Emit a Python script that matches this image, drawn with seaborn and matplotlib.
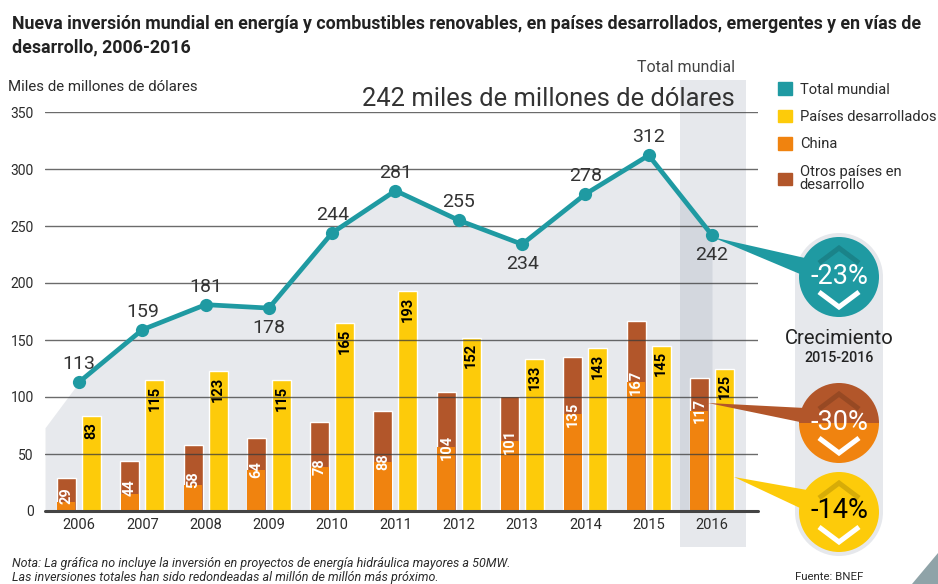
import matplotlib

matplotlib.use("Agg")

import matplotlib.pyplot as plt
import numpy as np
import pandas as pd
import seaborn as sns
from matplotlib.patches import Circle, Patch, Polygon, Rectangle, Wedge

YEARS = [2006, 2007, 2008, 2009, 2010, 2011, 2012, 2013, 2014, 2015, 2016]
TOTAL = [113, 159, 181, 178, 244, 281, 255, 234, 278, 312, 242]
DEVELOPED = [83, 115, 123, 115, 165, 193, 152, 133, 143, 145, 125]
DEVELOPING = [29, 44, 58, 64, 78, 88, 104, 101, 135, 167, 117]
CHINA = [8, 15, 23, 36, 39, 43, 56, 61, 85, 113, 88]
LABEL_BELOW = [2009, 2013, 2016]
AREA_START = 73
Y_TICKS = [0, 50, 100, 150, 200, 250, 300, 350]

TEAL = "#1F9AA2"
YELLOW = "#FDCB0A"
ORANGE = "#F0830F"
BROWN = "#B2562A"
PANEL = "#E6E8EC"
DARK = "#2B2B2B"

sns.set_theme(style="white")
plt.rcParams["font.family"] = ["Roboto", "DejaVu Sans"]

fig = plt.figure(figsize=(9.38, 5.84), dpi=100, facecolor="white")


def pixel_axes(zorder):
    overlay = fig.add_axes([0, 0, 1, 1], zorder=zorder)
    overlay.set_xlim(0, 938)
    overlay.set_ylim(584, 0)
    overlay.axis("off")
    return overlay


ax_bg = pixel_axes(0)
ax_bg.add_patch(Rectangle((680, 80), 66, 467, color=PANEL, lw=0))
ax_bg.add_patch(Rectangle((795, 277), 88, 235, color=PANEL, lw=0))
for cy in [277, 512]:
    ax_bg.add_patch(Circle((839, cy), 44, color=PANEL, lw=0))

ax = fig.add_axes([45 / 938, 1 - 511 / 584, 713 / 938, 399 / 584], zorder=1)
ax.patch.set_alpha(0)

bars = pd.DataFrame(
    {
        "year": YEARS * 2,
        "group": ["Otros"] * len(YEARS) + ["Desarrollados"] * len(YEARS),
        "value": DEVELOPING + DEVELOPED,
        "china": CHINA + [np.nan] * len(YEARS),
    }
)
hue_order = ["Otros", "Desarrollados"]

area_x = [YEARS[0] - 0.537] + YEARS
area_y = [AREA_START] + TOTAL
ax.fill_between(area_x, 0, area_y, color="#8A94A6", alpha=0.2, lw=0, zorder=0.5)

sns.barplot(
    data=bars, x="year", y="value", hue="group", hue_order=hue_order,
    palette={"Otros": BROWN, "Desarrollados": YELLOW}, native_scale=True, saturation=1,
    width=0.79, gap=0.24, edgecolor="white", linewidth=1, legend=False, ax=ax,
)
sns.barplot(
    data=bars, x="year", y="china", hue="group", hue_order=hue_order,
    palette={"Otros": ORANGE, "Desarrollados": YELLOW}, native_scale=True, saturation=1,
    width=0.79, gap=0.28, linewidth=0, legend=False, ax=ax,
)
sns.lineplot(
    x=YEARS, y=TOTAL, color=TEAL, linewidth=3.4, marker="o", markersize=9.5,
    markeredgewidth=0, zorder=5, ax=ax,
)

for year, total in zip(YEARS, TOTAL):
    offset = -20 if year in LABEL_BELOW else 18
    ax.annotate(
        str(total), (year, total), xytext=(0, offset * 0.72), textcoords="offset points",
        ha="center", va="center", fontsize=14, color="#333333", zorder=6,
    )

for year, other, china, developed in zip(YEARS, DEVELOPING, CHINA, DEVELOPED):
    # short bars: the label sits a little above the colour change
    ax.text(
        year - 0.197, max(china, other * 0.47), str(other), rotation=90, ha="center", va="center",
        fontsize=10.5, fontweight="bold", color="white", zorder=6,
    )
    ax.annotate(
        str(developed), (year + 0.197, developed), xytext=(0, -4), textcoords="offset points",
        rotation=90, ha="center", va="top", fontsize=10.5, fontweight="bold", color="black", zorder=6,
    )

ax.set_xlim(YEARS[0] - 0.537, YEARS[0] + 10.727)
ax.set_ylim(0, 350)
ax.set_xticks(YEARS, [str(y) for y in YEARS])
ax.set_yticks(Y_TICKS)
ax.set(xlabel="", ylabel="")
sns.despine(ax=ax, left=True, bottom=True, top=True, right=True)
ax.set_axisbelow(False)
ax.grid(axis="y", color="#3A3A3A", alpha=0.75, linewidth=1)
ax.grid(axis="x", visible=False)
ax.axhline(0, color="#444444", linewidth=2.2, clip_on=False, zorder=4)
ax.tick_params(axis="y", length=0, pad=8, labelsize=10, labelcolor=DARK)
ax.tick_params(axis="x", length=0, pad=5, labelsize=10.5, labelcolor=DARK)

ax_fg = pixel_axes(2)

# callouts from the 2016 values to the growth circles
ax_fg.add_patch(Polygon([(712, 237), (805, 258), (800, 274)], color=TEAL, lw=0))
ax_fg.add_patch(Polygon([(708, 403), (805, 408), (800, 422)], color=BROWN, lw=0))
ax_fg.add_patch(Polygon([(734, 477), (807, 490), (800, 508)], color=YELLOW, lw=0))

ax_fg.add_patch(Circle((839, 277), 40, color=TEAL, lw=0))
ax_fg.add_patch(Wedge((839, 423), 40, 180, 360, color=BROWN, lw=0))
ax_fg.add_patch(Wedge((839, 423), 40, 0, 180, color=ORANGE, lw=0))
ax_fg.add_patch(Circle((839, 512), 40, color=YELLOW, lw=0))

for cy in [277, 423, 512]:
    ax_fg.plot([819, 839, 859], [cy - 14, cy - 29, cy - 14], color="black", alpha=0.15, lw=3.6,
               solid_joinstyle="miter", solid_capstyle="butt")
    ax_fg.plot([819, 839, 859], [cy + 15, cy + 30, cy + 15], color="white", lw=3.6,
               solid_joinstyle="miter", solid_capstyle="butt")

for cy, label, color in [(277, "-23%", "white"), (423, "-30%", "white"), (512, "-14%", "black")]:
    ax_fg.text(839, cy - 1, label, ha="center", va="center", fontsize=19.5, color=color)

ax_fg.text(12, 24, "Nueva inversión mundial en energía y combustibles renovables, en países desarrollados, emergentes y en vías de",
           fontsize=12.75, fontweight="bold", color="#222222", va="center")
ax_fg.text(12, 47, "desarrollo, 2006-2016", fontsize=12.75, fontweight="bold", color="#222222", va="center")
ax_fg.text(8, 87, "Miles de millones de dólares", fontsize=10.8, color=DARK, va="center")
ax_fg.text(686, 68, "Total mundial", fontsize=11.5, color="#444444", ha="center", va="center")
ax_fg.text(735, 99, "242 miles de millones de dólares", fontsize=18.4, color="#333333", ha="right", va="center")
ax_fg.text(839, 339, "Crecimiento", fontsize=14.6, color="#222222", ha="center", va="center")
ax_fg.text(839, 358, "2015-2016", fontsize=10.3, fontweight="medium", color="#222222", ha="center", va="center")
ax_fg.text(829, 577, "Fuente: BNEF", fontsize=8.2, color=DARK, ha="center", va="center")
ax_fg.text(12, 563, "Nota: La gráfica no incluye la inversión en proyectos de energía hidráulica mayores a 50MW.",
           fontsize=9, fontstyle="italic", color=DARK, va="center")
ax_fg.text(12, 577, "Las inversiones totales han sido redondeadas al millón de millón más próximo.",
           fontsize=9, fontstyle="italic", color=DARK, va="center")
ax_fg.add_patch(Rectangle((122, 577), 340, 7, color="white", lw=0))
ax_fg.add_patch(Polygon([(912, 584), (938, 553), (938, 584)], color="#8FA3A8", lw=0))

handles = [Patch(color=c) for c in [TEAL, YELLOW, ORANGE, BROWN]]
labels = ["Total mundial", "Países desarrollados", "China", "Otros países en\ndesarrollo"]
legend = ax_fg.legend(
    handles, labels, loc="upper left", bbox_to_anchor=(774 / 938, 1 - 78 / 584), frameon=False,
    fontsize=10.6, handlelength=0.9, handleheight=0.9, handletextpad=0.55, labelspacing=0.9,
    borderaxespad=0, borderpad=0.3, labelcolor=DARK,
)
for text in legend.get_texts():
    text.set_linespacing(0.95)

fig.savefig("out.png", dpi=100)
